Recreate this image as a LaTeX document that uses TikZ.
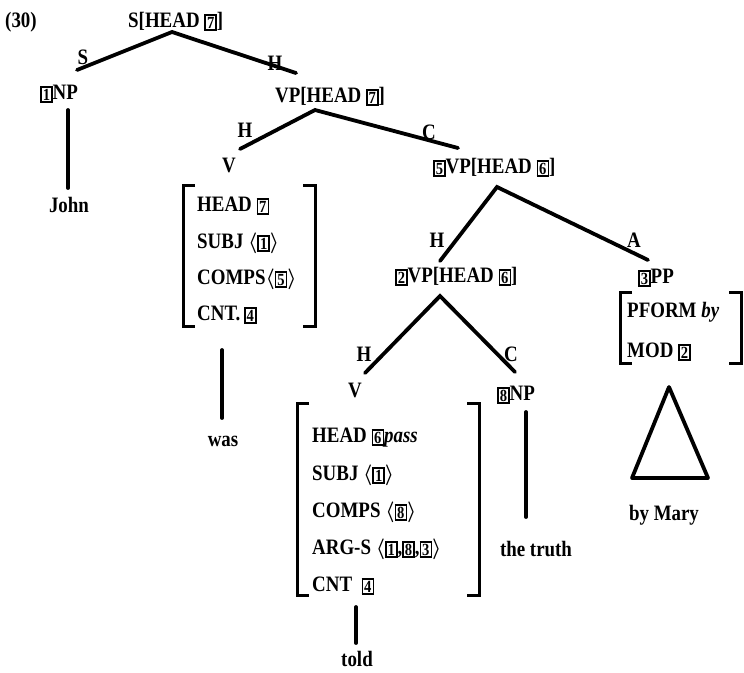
\documentclass[tikz,border=0pt]{standalone}
\usepackage{fontspec}
\newfontfamily\mainf{Liberation Serif}[FakeStretch=0.86]
\newcommand\tg[1]{\raisebox{-0.8pt}{\setlength\fboxsep{1.1pt}\setlength\fboxrule{1.5pt}\fbox{\fontsize{17}{17}\selectfont #1}}}
\newcommand\la{{\boldmath$\langle$}}
\newcommand\ra{{\boldmath$\rangle$}}
\begin{document}
\begin{tikzpicture}[x=1pt,y=-1pt,
  txt/.style={inner sep=0pt, text height=14.6pt, text depth=0pt, font=\mainf\bfseries\fontsize{22}{26}\selectfont},
  edge/.style={line width=3.8pt, line cap=round},
  brk/.style={line width=3pt}]
\useasboundingbox (0,0) rectangle (744,672);

% --- top labels
\node[txt, anchor=west] (ex) at (5,20) {(30)};
\node[txt, anchor=west] (s) at (128,20) {S[HEAD \tg{7}]};
\node[txt, anchor=west] (np1) at (40,92) {\tg{1}NP};
\node[txt, anchor=west] (vp1) at (275,95) {VP[HEAD \tg{7}]};
\node[txt] (v1) at (229,165) {V};
\node[txt, anchor=west] (vp5) at (433,166) {\tg{5}VP[HEAD \tg{6}]};
\node[txt, anchor=west] (vp2) at (395,275) {\tg{2}VP[HEAD \tg{6}]};
\node[txt, anchor=west] (pp3) at (638,276) {\tg{3}PP};
\node[txt] (v2) at (355,390) {V};
\node[txt, anchor=west] (np8) at (497,393) {\tg{8}NP};

% --- branch labels
\node[txt] (lS) at (83,57) {S};
\node[txt] (lH0) at (275,63) {H};
\node[txt] (lH1) at (245,130) {H};
\node[txt] (lC1) at (429,132) {C};
\node[txt] (lH2) at (437,240) {H};
\node[txt] (lA2) at (634,240) {A};
\node[txt] (lH3) at (364,354) {H};
\node[txt] (lC3) at (511,354) {C};

% --- branch coordinates
\coordinate (a0) at (172,32); \coordinate (l0) at (77,70); \coordinate (r0) at (296,73);
\coordinate (a1) at (315,110); \coordinate (l1) at (240,149); \coordinate (r1) at (458,148);
\coordinate (a2) at (497,187); \coordinate (l2) at (440,261); \coordinate (r2) at (648,260);
\coordinate (a3) at (440,296); \coordinate (l3) at (365,373); \coordinate (r3) at (515,372);
\draw[edge] (l0) -- (a0) -- (r0);
\draw[edge] (l1) -- (a1) -- (r1);
\draw[edge] (l2) -- (a2) -- (r2);
\draw[edge] (l3) -- (a3) -- (r3);

% --- V AVM (was)
\node[txt, anchor=west] (w1) at (197,204) {HEAD \tg{7}};
\node[txt, anchor=west] (w2) at (197,241) {SUBJ \la\tg{1}\ra};
\node[txt, anchor=west] (w3) at (197,277) {COMPS\la\tg{5}\ra};
\node[txt, anchor=west] (w4) at (197,313) {CNT.\,\tg{4}};
\draw[brk] (195,185) -- (183,185) -- (183,326) -- (195,326);
\draw[brk] (303,185) -- (315,185) -- (315,326) -- (303,326);

% --- V AVM (told)
\node[txt, anchor=west] (t1) at (312,435) {HEAD \tg{6}\textit{pass}};
\node[txt, anchor=west] (t2) at (312,473) {SUBJ \la\tg{1}\ra};
\node[txt, anchor=west] (t3) at (312,510) {COMPS \la\tg{8}\ra};
\node[txt, anchor=west] (t4) at (312,547) {ARG-S \la\tg{1},\tg{8},\tg{3}\ra};
\node[txt, anchor=west] (t5) at (312,584) {CNT \ \tg{4}};
\draw[brk] (309,403) -- (297,403) -- (297,595) -- (309,595);
\draw[brk] (467,403) -- (479,403) -- (479,595) -- (467,595);

% --- PP AVM
\node[txt, anchor=west] (p1) at (627,310) {PFORM \textit{by}};
\node[txt, anchor=west] (p2) at (627,350) {MOD \tg{2}};
\draw[brk] (632,292) -- (620,292) -- (620,363) -- (632,363);
\draw[brk] (729,292) -- (741,292) -- (741,363) -- (729,363);

% --- terminals
\node[txt] (john) at (69,205) {John};
\node[txt] (was) at (223,439) {was};
\node[txt] (told) at (357,659) {told};
\node[txt] (truth) at (536,549) {the truth};
\node[txt] (mary) at (664,513) {by Mary};

\coordinate (j0) at (68,110); \coordinate (j1) at (68,188);
\coordinate (w0) at (222,350); \coordinate (w9) at (222,418);
\coordinate (k0) at (356,607); \coordinate (k1) at (356,643);
\coordinate (n0) at (526,412); \coordinate (n1) at (526,517);
\draw[edge] (j0) -- (j1);
\draw[edge] (w0) -- (w9);
\draw[edge] (k0) -- (k1);
\draw[edge] (n0) -- (n1);

% --- triangle
\coordinate (tA) at (669,387); \coordinate (tB) at (632,478); \coordinate (tC) at (708,478);
\draw[edge, line join=round] (tA) -- (tB) -- (tC) -- cycle;
\end{tikzpicture}
\end{document}
